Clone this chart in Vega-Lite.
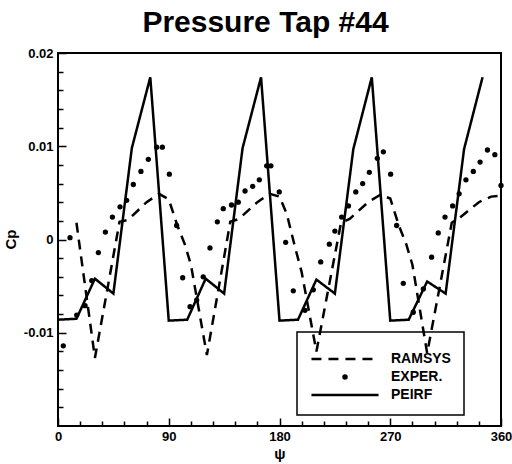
{
  "$schema": "https://vega.github.io/schema/vega-lite/v6.json",
  "width": 443,
  "height": 373,
  "autosize": {"type": "none"},
  "padding": {"left": 58, "top": 53, "right": 11, "bottom": 38},
  "background": "white",
  "title": {"text": "Pressure Tap #44", "font": "Liberation Sans", "fontSize": 30, "fontWeight": "bold", "color": "black", "anchor": "middle", "dx": -14, "offset": 9},
  "config": {
    "view": {"stroke": "black", "strokeWidth": 2},
    "axis": {"domain": false, "grid": false, "zindex": 1, "labelFont": "Liberation Sans", "labelFontWeight": "bold", "labelFontSize": 13, "labelColor": "black", "titleFont": "Liberation Sans", "titleFontWeight": "bold", "titleColor": "black", "tickColor": "black", "tickWidth": 1.5, "labelOverlap": false, "labelFlush": false},
    "legend": {"strokeColor": "black", "padding": 13, "symbolType": "M-6,0H6", "symbolSize": 125, "symbolOffset": 28, "symbolStrokeWidth": 2.5, "symbolStrokeColor": "black", "symbolFillColor": "black", "labelFont": "Liberation Sans", "labelFontWeight": "bold", "labelFontSize": 14, "labelColor": "black", "labelOffset": 39, "rowPadding": 4}
  },
  "datasets": {
    "tap44": [
      {"series": "PEIRF", "psi": 0, "cp": -0.0086}, {"series": "PEIRF", "psi": 15, "cp": -0.0085}, {"series": "PEIRF", "psi": 30, "cp": -0.0042}, {"series": "PEIRF", "psi": 45, "cp": -0.0058}, {"series": "PEIRF", "psi": 60, "cp": 0.0098}, {"series": "PEIRF", "psi": 75, "cp": 0.0174},
      {"series": "PEIRF", "psi": 90, "cp": -0.0087}, {"series": "PEIRF", "psi": 105, "cp": -0.0086}, {"series": "PEIRF", "psi": 120, "cp": -0.0042}, {"series": "PEIRF", "psi": 135, "cp": -0.0058}, {"series": "PEIRF", "psi": 150, "cp": 0.0098}, {"series": "PEIRF", "psi": 165, "cp": 0.0174},
      {"series": "PEIRF", "psi": 180, "cp": -0.0087}, {"series": "PEIRF", "psi": 195, "cp": -0.0086}, {"series": "PEIRF", "psi": 210, "cp": -0.0043}, {"series": "PEIRF", "psi": 225, "cp": -0.0058}, {"series": "PEIRF", "psi": 240, "cp": 0.0097}, {"series": "PEIRF", "psi": 255, "cp": 0.0174},
      {"series": "PEIRF", "psi": 270, "cp": -0.0087}, {"series": "PEIRF", "psi": 285, "cp": -0.0086}, {"series": "PEIRF", "psi": 300, "cp": -0.0045}, {"series": "PEIRF", "psi": 315, "cp": -0.0058}, {"series": "PEIRF", "psi": 330, "cp": 0.0097}, {"series": "PEIRF", "psi": 345, "cp": 0.0174},
      {"series": "RAMSYS", "psi": 15, "cp": 0.0018}, {"series": "RAMSYS", "psi": 30, "cp": -0.0127}, {"series": "RAMSYS", "psi": 50, "cp": 0.0019}, {"series": "RAMSYS", "psi": 57, "cp": 0.0021}, {"series": "RAMSYS", "psi": 72, "cp": 0.004}, {"series": "RAMSYS", "psi": 82, "cp": 0.0049},
      {"series": "RAMSYS", "psi": 90, "cp": 0.0043}, {"series": "RAMSYS", "psi": 97, "cp": 0.0015}, {"series": "RAMSYS", "psi": 103, "cp": -0.0005}, {"series": "RAMSYS", "psi": 108, "cp": -0.0027}, {"series": "RAMSYS", "psi": 121, "cp": -0.0124}, {"series": "RAMSYS", "psi": 140, "cp": 0.0019}, {"series": "RAMSYS", "psi": 147, "cp": 0.0022}, {"series": "RAMSYS", "psi": 162, "cp": 0.004}, {"series": "RAMSYS", "psi": 172, "cp": 0.0049},
      {"series": "RAMSYS", "psi": 180, "cp": 0.0046}, {"series": "RAMSYS", "psi": 186, "cp": 0.0027}, {"series": "RAMSYS", "psi": 192, "cp": -0.0005}, {"series": "RAMSYS", "psi": 198, "cp": -0.0035}, {"series": "RAMSYS", "psi": 210, "cp": -0.012}, {"series": "RAMSYS", "psi": 230, "cp": 0.0018}, {"series": "RAMSYS", "psi": 237, "cp": 0.0022}, {"series": "RAMSYS", "psi": 252, "cp": 0.004}, {"series": "RAMSYS", "psi": 262, "cp": 0.0048},
      {"series": "RAMSYS", "psi": 270, "cp": 0.0044}, {"series": "RAMSYS", "psi": 277, "cp": 0.0015}, {"series": "RAMSYS", "psi": 283, "cp": -0.0005}, {"series": "RAMSYS", "psi": 288, "cp": -0.0027}, {"series": "RAMSYS", "psi": 300, "cp": -0.0122}, {"series": "RAMSYS", "psi": 320, "cp": 0.0018}, {"series": "RAMSYS", "psi": 327, "cp": 0.0024}, {"series": "RAMSYS", "psi": 342, "cp": 0.004}, {"series": "RAMSYS", "psi": 352, "cp": 0.0046}, {"series": "RAMSYS", "psi": 360, "cp": 0.0047},
      {"series": "EXPER.", "psi": 4.3, "cp": -0.0114}, {"series": "EXPER.", "psi": 9.75, "cp": 0.0002}, {"series": "EXPER.", "psi": 15.2, "cp": -0.0081}, {"series": "EXPER.", "psi": 22, "cp": -0.0071}, {"series": "EXPER.", "psi": 27.4, "cp": -0.0044}, {"series": "EXPER.", "psi": 32.8, "cp": -0.0014}, {"series": "EXPER.", "psi": 38.5, "cp": 0.0008}, {"series": "EXPER.", "psi": 44.2, "cp": 0.0024}, {"series": "EXPER.", "psi": 50.4, "cp": 0.0035}, {"series": "EXPER.", "psi": 55.8, "cp": 0.0042}, {"series": "EXPER.", "psi": 61.2, "cp": 0.0059}, {"series": "EXPER.", "psi": 67.4, "cp": 0.0073}, {"series": "EXPER.", "psi": 73.4, "cp": 0.0086}, {"series": "EXPER.", "psi": 80.2, "cp": 0.0099}, {"series": "EXPER.", "psi": 84.8, "cp": 0.0099},
      {"series": "EXPER.", "psi": 90.5, "cp": 0.007}, {"series": "EXPER.", "psi": 96.4, "cp": 0.0015}, {"series": "EXPER.", "psi": 101.3, "cp": -0.0041}, {"series": "EXPER.", "psi": 107.3, "cp": -0.0072}, {"series": "EXPER.", "psi": 112.7, "cp": -0.0065}, {"series": "EXPER.", "psi": 118, "cp": -0.004}, {"series": "EXPER.", "psi": 123.5, "cp": -0.0009}, {"series": "EXPER.", "psi": 129.5, "cp": 0.0019}, {"series": "EXPER.", "psi": 134.3, "cp": 0.0033}, {"series": "EXPER.", "psi": 141, "cp": 0.0037}, {"series": "EXPER.", "psi": 146.5, "cp": 0.004}, {"series": "EXPER.", "psi": 152, "cp": 0.0052}, {"series": "EXPER.", "psi": 158.2, "cp": 0.0057}, {"series": "EXPER.", "psi": 163.6, "cp": 0.0064}, {"series": "EXPER.", "psi": 169.6, "cp": 0.0079}, {"series": "EXPER.", "psi": 173, "cp": 0.0079},
      {"series": "EXPER.", "psi": 179.8, "cp": 0.0051}, {"series": "EXPER.", "psi": 185, "cp": -0.0003}, {"series": "EXPER.", "psi": 191.2, "cp": -0.0055}, {"series": "EXPER.", "psi": 200.7, "cp": -0.0076}, {"series": "EXPER.", "psi": 207.5, "cp": -0.0054}, {"series": "EXPER.", "psi": 213.5, "cp": -0.0024}, {"series": "EXPER.", "psi": 220.5, "cp": -0.0005}, {"series": "EXPER.", "psi": 225, "cp": 0.0009}, {"series": "EXPER.", "psi": 230.5, "cp": 0.0024}, {"series": "EXPER.", "psi": 236, "cp": 0.0036}, {"series": "EXPER.", "psi": 242, "cp": 0.0051}, {"series": "EXPER.", "psi": 247.6, "cp": 0.006}, {"series": "EXPER.", "psi": 253, "cp": 0.0072}, {"series": "EXPER.", "psi": 259.5, "cp": 0.0087}, {"series": "EXPER.", "psi": 264.4, "cp": 0.0094},
      {"series": "EXPER.", "psi": 270.3, "cp": 0.007}, {"series": "EXPER.", "psi": 275.2, "cp": 0.0015}, {"series": "EXPER.", "psi": 280.6, "cp": -0.0047}, {"series": "EXPER.", "psi": 288.7, "cp": -0.0078}, {"series": "EXPER.", "psi": 296.9, "cp": -0.0053}, {"series": "EXPER.", "psi": 303.6, "cp": -0.0019}, {"series": "EXPER.", "psi": 309, "cp": 0.0007}, {"series": "EXPER.", "psi": 314.5, "cp": 0.0024}, {"series": "EXPER.", "psi": 320.7, "cp": 0.0036}, {"series": "EXPER.", "psi": 326, "cp": 0.0049}, {"series": "EXPER.", "psi": 331.5, "cp": 0.0064}, {"series": "EXPER.", "psi": 337.5, "cp": 0.0073}, {"series": "EXPER.", "psi": 343, "cp": 0.0083}, {"series": "EXPER.", "psi": 349, "cp": 0.0096}, {"series": "EXPER.", "psi": 355, "cp": 0.0091}, {"series": "EXPER.", "psi": 360, "cp": 0.0058}
    ]
  },
  "data": {"name": "tap44"},
  "resolve": {"axis": {"x": "independent", "y": "independent"}},
  "layer": [
    {
      "transform": [{"filter": "datum.series !== 'EXPER.'"}],
      "mark": {"type": "line", "color": "black", "strokeWidth": 2.5, "clip": true},
      "encoding": {
        "x": {"field": "psi", "type": "quantitative", "scale": {"domain": [0, 360], "nice": false, "zero": false},
          "axis": {"orient": "bottom", "values": [0, 90, 180, 270, 360], "offset": -8,
            "tickSize": 8, "labelPadding": 4, "title": "ψ", "titleFontSize": 15, "titleY": 40, "titleBaseline": "alphabetic"}},
        "y": {"field": "cp", "type": "quantitative", "scale": {"domain": [-0.02, 0.02], "nice": false, "zero": false},
          "axis": {"orient": "left", "values": [-0.01, 0, 0.01, 0.02], "offset": -8,
            "labelExpr": "datum.value === 0 ? '0' : replace(format(datum.value, '.2f'), '−', '-')",
            "tickSize": 8, "labelPadding": 5, "title": "Cp", "titleFontSize": 15, "titleX": -48, "titleY": 186, "titleAlign": "center", "titleBaseline": "bottom", "titleAngle": -90}},
        "strokeDash": {"field": "series", "type": "nominal",
          "scale": {"domain": ["RAMSYS", "EXPER.", "PEIRF"], "range": [[10, 7], [1, 0], [1, 0]]},
          "legend": {"title": " ", "titleFontSize": 5, "titlePadding": 2, "orient": "none", "legendX": 239, "legendY": 279,
            "encode": {
              "symbols": {"update": {
                "shape": {"signal": "datum.value === 'EXPER.' ? 'circle' : 'M-6,0H6'"},
                "size": {"signal": "datum.value === 'EXPER.' ? 30 : 125"},
                "strokeWidth": {"signal": "datum.value === 'EXPER.' ? 0 : 2.5"},
                "fill": {"value": "black"},
                "stroke": {"value": "black"}
              }},
              "legend": {"update": {"stroke": {"value": "black"}, "strokeWidth": {"value": 1.5}}}
            }}}
      }
    },
    {
      "transform": [{"filter": "datum.series === 'EXPER.'"}],
      "mark": {"type": "point", "filled": true, "color": "black", "size": 28, "opacity": 1, "strokeWidth": 0},
      "encoding": {
        "x": {"field": "psi", "type": "quantitative",
          "axis": {"orient": "bottom", "offset": -5, "values": [18, 36, 54, 72, 108, 126, 144, 162, 198, 216, 234, 252, 288, 306, 324, 342], "labels": false, "title": null, "tickSize": 5}},
        "y": {"field": "cp", "type": "quantitative",
          "axis": {"orient": "left", "offset": -5, "values": [-0.018, -0.016, -0.014, -0.012, -0.008, -0.006, -0.004, -0.002, 0.002, 0.004, 0.006, 0.008, 0.012, 0.014, 0.016, 0.018], "labels": false, "title": null, "tickSize": 5}}
      }
    }
  ]
}
